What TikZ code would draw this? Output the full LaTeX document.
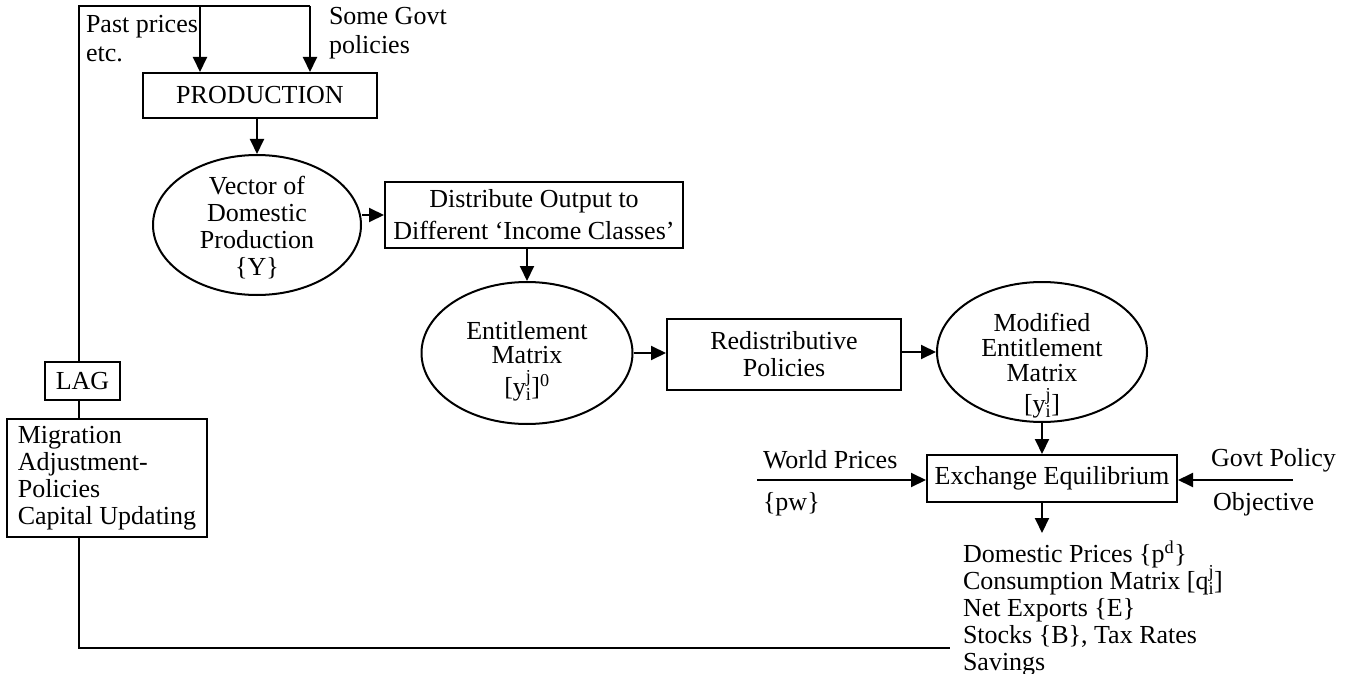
\documentclass[tikz,border=0pt]{standalone}
\usepackage{fontspec}
\setmainfont{Liberation Serif}
\usetikzlibrary{arrows.meta,shapes.geometric}
\newcommand{\yij}{y$^{\mathrm{j}}_{\mathrm{i}}$}
\newcommand{\qij}{q$^{\mathrm{j}}_{\mathrm{i}}$}
\newcommand{\diagfont}{\fontsize{26}{27}\selectfont\lineskiplimit=-30pt\relax\lineskip=0pt\relax}
\begin{document}
\begin{tikzpicture}[x=1pt,y=-1pt, line width=2pt,
  every node/.style={font=\diagfont, inner sep=0pt},
  box/.style={draw, rectangle, align=center},
  oval/.style={draw, ellipse},
  txt/.style={align=center},
  lbl/.style={align=left, anchor=north west},
  arr/.style={-{Triangle[length=15pt,width=14pt]}}]
\useasboundingbox (0,0) rectangle (1349,674);

% main nodes
\node[box, minimum width=234pt, minimum height=45pt] (prod) at (260,95.5) {PRODUCTION};
\node[oval, minimum width=208pt, minimum height=140pt] (vecE) at (257,225) {};
\node[txt] (vecT) at (257,228) {Vector of\\Domestic\\Production\\\{Y\}};
\node[box, minimum width=298pt, minimum height=66pt] (dist) at (534,215) {Distribute Output to\\[5pt]Different `Income Classes'};
\node[oval, minimum width=211pt, minimum height=142pt] (entE) at (527,353) {};
\node[txt] (entT) at (527,361) {Entitlement\\[-3pt]Matrix\\[5pt]{}[\yij]\textsuperscript{0}};
\node[box, minimum width=234pt, minimum height=71pt] (redis) at (784,354.5) {Redistributive\\Policies};
\node[oval, minimum width=210pt, minimum height=140pt] (modE) at (1042,352) {};
\node[txt] (modT) at (1042,366) {Modified\\[-2pt]Entitlement\\[-2pt]Matrix\\[4pt]{}[\yij]};
\node[box, minimum width=250pt, minimum height=47pt] (exch) at (1052,478.5) {Exchange Equilibrium};
\node[box, minimum width=75pt, minimum height=38pt] (lag) at (82.5,381) {LAG};
\node[box, align=left, minimum width=200pt, minimum height=118pt] (mig) at (107,478) {Migration\\Adjustment-\\Policies\\Capital Updating};

% labels
\node[lbl] (past) at (85,14) {Past prices\\[2pt]etc.};
\node[lbl] (sgov) at (328,6) {Some Govt\\[2pt]policies};
\node[lbl] (world) at (762,449) {World Prices};
\node[lbl] (pw) at (762,491) {\{pw\}};
\node[lbl] (gpol) at (1210,447) {Govt Policy};
\node[lbl] (obj) at (1212,491) {Objective};
\node[lbl] (out) at (962,540) {Domestic Prices \{p\textsuperscript{d}\}\\Consumption Matrix [\qij]\\Net Exports \{E\}\\Stocks \{B\}, Tax Rates\\Savings};

% coordinates
\coordinate (tl) at (79,6);
\coordinate (tm) at (200,6);
\coordinate (tr) at (310,6);
\coordinate (bl) at (79,648);
\coordinate (br) at (950,648);
\coordinate (wp) at (757,480);
\coordinate (gp) at (1293,480);
\coordinate (outin) at (1042,533);

% connectors
\draw (lag.north -| tl) -- (tl) -- (tr);
\draw[arr] (tm) -- (tm |- prod.north);
\draw[arr] (tr) -- (tr |- prod.north);
\draw (lag.south -| tl) -- (mig.north -| tl);
\draw (mig.south -| tl) -- (bl) -- (br);
\draw[arr] (prod.south -| vecE.north) -- (vecE.north);
\draw[arr] (dist.west -| vecE.east) -- (dist.west);
\draw[arr] (dist.south -| entE.north) -- (entE.north);
\draw[arr] (entE.east) -- (entE.east -| redis.west);
\draw[arr] (modE.west -| redis.east) -- (modE.west);
\draw[arr] (modE.south) -- (modE.south |- exch.north);
\draw[arr] (exch.south -| outin) -- (outin);
\draw[arr] (wp) -- (wp -| exch.west);
\draw[arr] (gp) -- (gp -| exch.east);
\end{tikzpicture}
\end{document}
